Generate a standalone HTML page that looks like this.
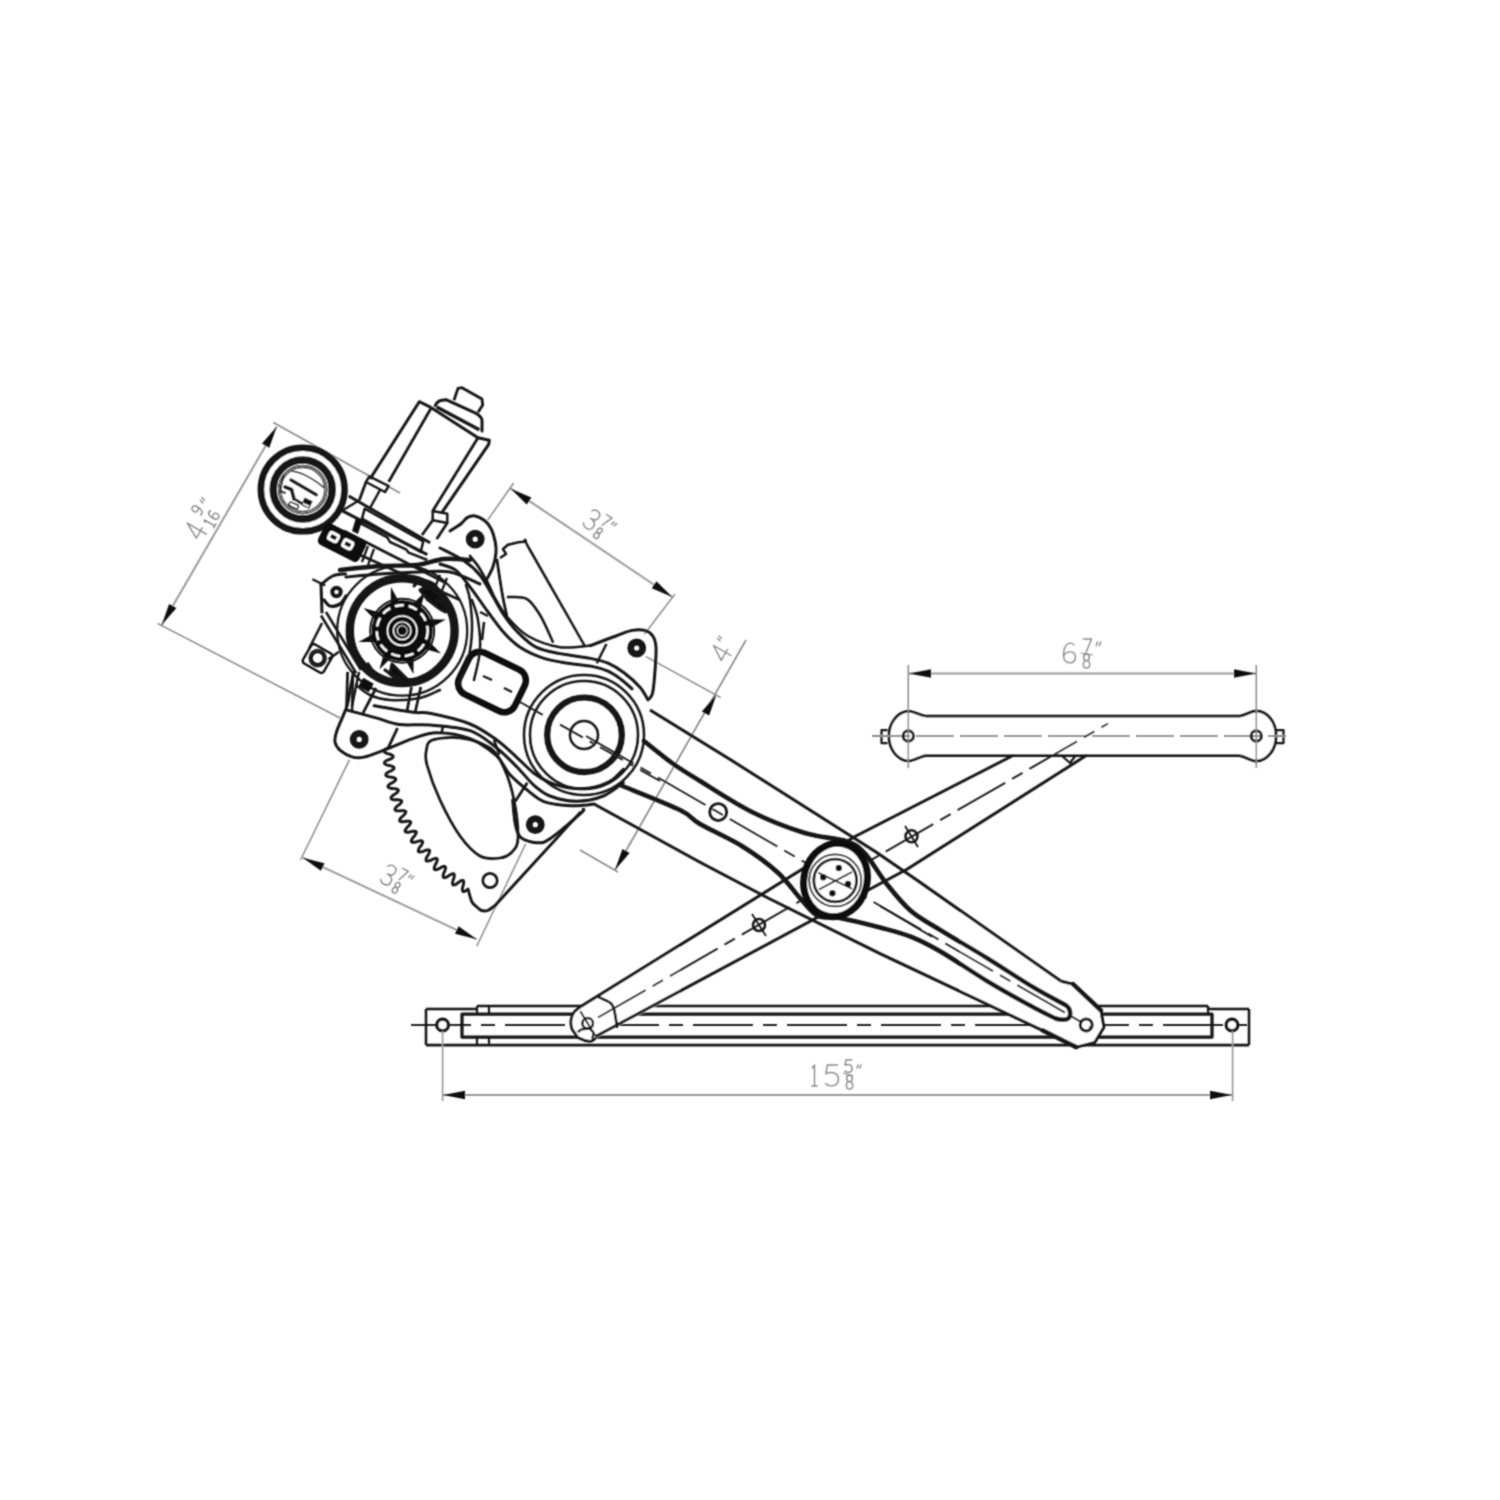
<!DOCTYPE html>
<html><head><meta charset="utf-8"><title>Window Regulator</title>
<style>html,body{margin:0;padding:0;background:#fff;font-family:"Liberation Sans",sans-serif;}svg{display:block;}</style></head>
<body>
<svg width="1500" height="1500" viewBox="0 0 1500 1500">
<defs><filter id="soft" x="-1%" y="-1%" width="102%" height="102%"><feConvolveMatrix order="3" kernelMatrix="0.04 0.12 0.04 0.12 0.36 0.12 0.04 0.12 0.04" edgeMode="none"/></filter></defs>
<rect width="1500" height="1500" fill="#ffffff"/>
<g filter="url(#soft)">
<line x1="273.3" y1="422.5" x2="400.0" y2="493.0" stroke="#8a8a8a" stroke-width="1.5" />
<line x1="157.5" y1="623.3" x2="340.0" y2="718.0" stroke="#8a8a8a" stroke-width="1.5" />
<line x1="276.7" y1="426.7" x2="161.7" y2="625.0" stroke="#9a9a9a" stroke-width="2.0" />
<path d="M276.7,426.7 L269.3,447.8 L262.0,443.6 Z" fill="#111"/>
<path d="M161.7,625.0 L169.1,603.9 L176.4,608.1 Z" fill="#111"/>
<g transform="translate(201.7,542.1) rotate(-60.0)">
<path d="M0.7,1 L0.7,0 L0.05,0.7 L0.95,0.7" transform="translate(0.0,-22.0) scale(13.20,22.00)" fill="none" stroke="#8a8a8a" stroke-width="1.4" vector-effect="non-scaling-stroke" stroke-linecap="round" stroke-linejoin="round"/>
<path d="M0.88,0.4 C0.7,0.65 0.1,0.65 0.1,0.3 C0.1,-0.05 0.9,-0.05 0.9,0.35 C0.9,0.9 0.5,1.05 0.15,0.95" transform="translate(21.8,-26.0) scale(7.50,12.10)" fill="none" stroke="#8a8a8a" stroke-width="1.4" vector-effect="non-scaling-stroke" stroke-linecap="round" stroke-linejoin="round"/>
<path d="M0.25,0.15 L0.5,0 L0.5,1 M0.2,1 L0.8,1" transform="translate(16.8,-8.9) scale(7.50,12.10)" fill="none" stroke="#8a8a8a" stroke-width="1.4" vector-effect="non-scaling-stroke" stroke-linecap="round" stroke-linejoin="round"/>
<path d="M0.8,0.08 C0.6,-0.05 0.1,-0.05 0.1,0.6 C0.1,1.05 0.9,1.05 0.9,0.68 C0.9,0.35 0.3,0.35 0.12,0.6" transform="translate(25.6,-8.9) scale(7.50,12.10)" fill="none" stroke="#8a8a8a" stroke-width="1.4" vector-effect="non-scaling-stroke" stroke-linecap="round" stroke-linejoin="round"/>
<path d="M0.3,0 L0.15,0.45 M0.7,0 L0.55,0.45" transform="translate(33.3,-22.0) scale(7.70,7.70)" fill="none" stroke="#8a8a8a" stroke-width="1.4" vector-effect="non-scaling-stroke" stroke-linecap="round" stroke-linejoin="round"/>
</g>
<line x1="513.6" y1="483.0" x2="487.5" y2="520.4" stroke="#8a8a8a" stroke-width="1.5" />
<line x1="675.0" y1="594.1" x2="644.3" y2="634.3" stroke="#8a8a8a" stroke-width="1.5" />
<line x1="510.8" y1="488.7" x2="672.3" y2="597.0" stroke="#9a9a9a" stroke-width="2.0" />
<path d="M510.8,488.7 L531.4,497.5 L526.7,504.4 Z" fill="#111"/>
<path d="M672.3,597.0 L651.7,588.2 L656.4,581.3 Z" fill="#111"/>
<g transform="translate(581.0,525.0) rotate(33.8)">
<path d="M0.1,0.15 C0.25,-0.05 0.85,-0.05 0.85,0.25 C0.85,0.45 0.6,0.48 0.35,0.48 C0.65,0.48 0.9,0.55 0.9,0.75 C0.9,1.05 0.25,1.05 0.08,0.85" transform="translate(0.0,-21.0) scale(12.60,21.00)" fill="none" stroke="#8a8a8a" stroke-width="1.4" vector-effect="non-scaling-stroke" stroke-linecap="round" stroke-linejoin="round"/>
<path d="M0.05,0 L0.95,0 L0.35,1" transform="translate(15.1,-23.0) scale(7.16,11.55)" fill="none" stroke="#8a8a8a" stroke-width="1.4" vector-effect="non-scaling-stroke" stroke-linecap="round" stroke-linejoin="round"/>
<path d="M0.5,0.47 C0.05,0.45 0.1,0 0.5,0 C0.9,0 0.95,0.45 0.5,0.47 C0.0,0.5 0.05,1 0.5,1 C0.95,1 1.0,0.5 0.5,0.47 Z" transform="translate(15.1,-8.4) scale(7.16,11.55)" fill="none" stroke="#8a8a8a" stroke-width="1.4" vector-effect="non-scaling-stroke" stroke-linecap="round" stroke-linejoin="round"/>
<path d="M0.3,0 L0.15,0.45 M0.7,0 L0.55,0.45" transform="translate(23.8,-21.0) scale(7.35,7.35)" fill="none" stroke="#8a8a8a" stroke-width="1.4" vector-effect="non-scaling-stroke" stroke-linecap="round" stroke-linejoin="round"/>
</g>
<line x1="746.0" y1="640.0" x2="615.0" y2="870.0" stroke="#8a8a8a" stroke-width="1.625" />
<path d="M716.5,694.5 L709.1,715.6 L701.9,711.4 Z" fill="#111"/>
<path d="M615.0,870.0 L622.4,848.9 L629.6,853.1 Z" fill="#111"/>
<line x1="646.0" y1="656.7" x2="720.8" y2="697.7" stroke="#8a8a8a" stroke-width="1.5" />
<line x1="580.0" y1="850.0" x2="618.0" y2="872.0" stroke="#8a8a8a" stroke-width="1.5" />
<g transform="translate(726,664) rotate(-60)">
<path d="M0.7,1 L0.7,0 L0.05,0.7 L0.95,0.7" transform="translate(0.0,-20.0) scale(14.00,20.00)" fill="none" stroke="#8a8a8a" stroke-width="1.4" vector-effect="non-scaling-stroke" stroke-linecap="round" stroke-linejoin="round"/>
<path d="M0.3,0 L0.15,0.45 M0.7,0 L0.55,0.45" transform="translate(16.0,-20.0) scale(7.00,7.00)" fill="none" stroke="#8a8a8a" stroke-width="1.4" vector-effect="non-scaling-stroke" stroke-linecap="round" stroke-linejoin="round"/>
</g>
<line x1="349.5" y1="759.7" x2="300.5" y2="860.0" stroke="#8a8a8a" stroke-width="1.5" />
<line x1="525.7" y1="843.7" x2="476.7" y2="946.3" stroke="#8a8a8a" stroke-width="1.5" />
<line x1="302.8" y1="857.7" x2="476.7" y2="939.3" stroke="#9a9a9a" stroke-width="2.0" />
<path d="M302.8,857.7 L324.5,863.2 L320.9,870.8 Z" fill="#111"/>
<path d="M476.7,939.3 L455.0,933.8 L458.6,926.2 Z" fill="#111"/>
<g transform="translate(378.4,881.5) rotate(27.6)">
<path d="M0.1,0.15 C0.25,-0.05 0.85,-0.05 0.85,0.25 C0.85,0.45 0.6,0.48 0.35,0.48 C0.65,0.48 0.9,0.55 0.9,0.75 C0.9,1.05 0.25,1.05 0.08,0.85" transform="translate(0.0,-21.0) scale(12.60,21.00)" fill="none" stroke="#8a8a8a" stroke-width="1.4" vector-effect="non-scaling-stroke" stroke-linecap="round" stroke-linejoin="round"/>
<path d="M0.05,0 L0.95,0 L0.35,1" transform="translate(15.1,-23.0) scale(7.16,11.55)" fill="none" stroke="#8a8a8a" stroke-width="1.4" vector-effect="non-scaling-stroke" stroke-linecap="round" stroke-linejoin="round"/>
<path d="M0.5,0.47 C0.05,0.45 0.1,0 0.5,0 C0.9,0 0.95,0.45 0.5,0.47 C0.0,0.5 0.05,1 0.5,1 C0.95,1 1.0,0.5 0.5,0.47 Z" transform="translate(15.1,-8.4) scale(7.16,11.55)" fill="none" stroke="#8a8a8a" stroke-width="1.4" vector-effect="non-scaling-stroke" stroke-linecap="round" stroke-linejoin="round"/>
<path d="M0.3,0 L0.15,0.45 M0.7,0 L0.55,0.45" transform="translate(23.8,-21.0) scale(7.35,7.35)" fill="none" stroke="#8a8a8a" stroke-width="1.4" vector-effect="non-scaling-stroke" stroke-linecap="round" stroke-linejoin="round"/>
</g>
<line x1="411.0" y1="1025.0" x2="1257.0" y2="1025.0" stroke="#222" stroke-width="2.0" stroke-dasharray="60 10 14 10" />
<line x1="426.0" y1="1009.0" x2="477.0" y2="1009.0" stroke="#151515" stroke-width="2.5" />
<line x1="477.0" y1="1006.0" x2="1208.0" y2="1006.0" stroke="#151515" stroke-width="2.5" />
<line x1="1208.0" y1="1009.0" x2="1249.0" y2="1009.0" stroke="#151515" stroke-width="2.5" />
<line x1="426.0" y1="1009.0" x2="426.0" y2="1045.0" stroke="#151515" stroke-width="2.5" />
<line x1="1249.0" y1="1009.0" x2="1249.0" y2="1045.0" stroke="#151515" stroke-width="2.5" />
<line x1="426.0" y1="1045.0" x2="1249.0" y2="1045.0" stroke="#151515" stroke-width="2.75" />
<line x1="1208.0" y1="1006.0" x2="1208.0" y2="1009.0" stroke="#151515" stroke-width="2.5" />
<path d="M1212.0,1014.0 L462.0,1014.0 L462.0,1037.0 L1212.0,1037.0 Z" stroke="#151515" stroke-width="3.25" fill="none" stroke-linejoin="round" />
<path d="M477.0,1006.0 L477.0,1014.0" stroke="#151515" stroke-width="2.25" fill="none" stroke-linejoin="round" />
<path d="M489.0,1006.0 L489.0,1014.0" stroke="#151515" stroke-width="2.25" fill="none" stroke-linejoin="round" />
<path d="M477.0,1037.0 L477.0,1045.0" stroke="#151515" stroke-width="2.25" fill="none" stroke-linejoin="round" />
<path d="M489.0,1037.0 L489.0,1045.0" stroke="#151515" stroke-width="2.25" fill="none" stroke-linejoin="round" />
<line x1="1208.0" y1="1009.0" x2="1208.0" y2="1014.0" stroke="#151515" stroke-width="2.25" />
<circle cx="442.6" cy="1025.0" r="5.8" stroke="#151515" stroke-width="3.4" fill="white" />
<circle cx="1232.0" cy="1025.0" r="5.8" stroke="#151515" stroke-width="3.4" fill="white" />
<line x1="442.6" y1="1031.0" x2="442.6" y2="1101.0" stroke="#9a9a9a" stroke-width="1.625" />
<line x1="1232.6" y1="1031.0" x2="1232.6" y2="1101.0" stroke="#9a9a9a" stroke-width="1.625" />
<line x1="443.0" y1="1095.0" x2="1232.0" y2="1095.0" stroke="#9a9a9a" stroke-width="2.0" />
<path d="M443.0,1095.0 L465.0,1090.8 L465.0,1099.2 Z" fill="#111"/>
<path d="M1232.0,1095.0 L1210.0,1099.2 L1210.0,1090.8 Z" fill="#111"/>
<path d="M0.25,0.15 L0.5,0 L0.5,1 M0.2,1 L0.8,1" transform="translate(810.0,1065.0) scale(9.00,21.00)" fill="none" stroke="#8a8a8a" stroke-width="1.4" vector-effect="non-scaling-stroke" stroke-linecap="round" stroke-linejoin="round"/>
<path d="M0.85,0 L0.2,0 L0.12,0.42 C0.3,0.32 0.9,0.3 0.9,0.68 C0.9,1.05 0.3,1.05 0.1,0.88" transform="translate(824.0,1065.0) scale(16.00,21.00)" fill="none" stroke="#8a8a8a" stroke-width="1.4" vector-effect="non-scaling-stroke" stroke-linecap="round" stroke-linejoin="round"/>
<path d="M0.85,0 L0.2,0 L0.12,0.42 C0.3,0.32 0.9,0.3 0.9,0.68 C0.9,1.05 0.3,1.05 0.1,0.88" transform="translate(844.0,1060.0) scale(9.00,12.50)" fill="none" stroke="#8a8a8a" stroke-width="1.4" vector-effect="non-scaling-stroke" stroke-linecap="round" stroke-linejoin="round"/>
<path d="M0.5,0.47 C0.05,0.45 0.1,0 0.5,0 C0.9,0 0.95,0.45 0.5,0.47 C0.0,0.5 0.05,1 0.5,1 C0.95,1 1.0,0.5 0.5,0.47 Z" transform="translate(845.0,1075.0) scale(9.00,14.00)" fill="none" stroke="#8a8a8a" stroke-width="1.4" vector-effect="non-scaling-stroke" stroke-linecap="round" stroke-linejoin="round"/>
<line x1="843" y1="1073" x2="853" y2="1076" stroke="#8a8a8a" stroke-width="1.1"/>
<path d="M0.3,0 L0.15,0.45 M0.7,0 L0.55,0.45" transform="translate(856.0,1065.0) scale(7.00,7.00)" fill="none" stroke="#8a8a8a" stroke-width="1.4" vector-effect="non-scaling-stroke" stroke-linecap="round" stroke-linejoin="round"/>
<line x1="872.0" y1="736.0" x2="1286.0" y2="736.0" stroke="#8a8a8a" stroke-width="1.875" stroke-dasharray="38 6" />
<path d="M926,716 L1239,716 C1245,716 1250,711 1256,710.8 A20,25 0 0 1 1256,761 C1250,761 1245,756 1239,755.6 L926,755.6 C920,756 914,761 908,761 A21,25 0 0 1 908,711.2 C914,711 920,716 926,716 Z" stroke="#151515" stroke-width="2.75" fill="white" stroke-linejoin="round" stroke-linecap="round" />
<path d="M887.5,730.0 L881.5,730.0 L881.5,743.0 L887.5,743.0" stroke="#151515" stroke-width="2.25" fill="none" stroke-linejoin="round" />
<path d="M1276.0,730.0 L1283.5,730.0 L1283.5,743.0 L1276.0,743.0" stroke="#151515" stroke-width="2.25" fill="none" stroke-linejoin="round" />
<line x1="872.0" y1="736.0" x2="1286.0" y2="736.0" stroke="#8a8a8a" stroke-width="1.875" stroke-dasharray="38 6" />
<circle cx="908.3" cy="736.0" r="5.2" stroke="#151515" stroke-width="3.0" fill="none" />
<circle cx="1256.3" cy="736.0" r="5.2" stroke="#151515" stroke-width="3.0" fill="none" />
<line x1="908.3" y1="665.0" x2="908.3" y2="768.0" stroke="#8a8a8a" stroke-width="1.5" />
<line x1="1256.3" y1="665.0" x2="1256.3" y2="768.0" stroke="#8a8a8a" stroke-width="1.5" />
<line x1="909.0" y1="673.5" x2="1256.0" y2="673.5" stroke="#9a9a9a" stroke-width="2.0" />
<path d="M909.0,673.5 L931.0,669.3 L931.0,677.7 Z" fill="#111"/>
<path d="M1256.0,673.5 L1234.0,677.7 L1234.0,669.3 Z" fill="#111"/>
<path d="M0.8,0.08 C0.6,-0.05 0.1,-0.05 0.1,0.6 C0.1,1.05 0.9,1.05 0.9,0.68 C0.9,0.35 0.3,0.35 0.12,0.6" transform="translate(1062.0,643.0) scale(15.00,21.00)" fill="none" stroke="#8a8a8a" stroke-width="1.4" vector-effect="non-scaling-stroke" stroke-linecap="round" stroke-linejoin="round"/>
<path d="M0.05,0 L0.95,0 L0.35,1" transform="translate(1083.0,639.0) scale(9.00,13.00)" fill="none" stroke="#8a8a8a" stroke-width="1.4" vector-effect="non-scaling-stroke" stroke-linecap="round" stroke-linejoin="round"/>
<line x1="1081" y1="653" x2="1093" y2="655" stroke="#8a8a8a" stroke-width="1.1"/>
<path d="M0.5,0.47 C0.05,0.45 0.1,0 0.5,0 C0.9,0 0.95,0.45 0.5,0.47 C0.0,0.5 0.05,1 0.5,1 C0.95,1 1.0,0.5 0.5,0.47 Z" transform="translate(1082.0,654.0) scale(9.00,14.00)" fill="none" stroke="#8a8a8a" stroke-width="1.4" vector-effect="non-scaling-stroke" stroke-linecap="round" stroke-linejoin="round"/>
<path d="M0.3,0 L0.15,0.45 M0.7,0 L0.55,0.45" transform="translate(1095.0,642.0) scale(8.00,8.00)" fill="none" stroke="#8a8a8a" stroke-width="1.4" vector-effect="non-scaling-stroke" stroke-linecap="round" stroke-linejoin="round"/>
<path d="M581.7,1006 L680,945.4 L680,993.3 L595,1038.7 L589.7,1041.3 L579,1038 L575,1033.3 L571.7,1028 L571,1020 L574.3,1012 Z" fill="white"/>
<path d="M960,911.5 L1061,981.2 L1073.2,984.3 L1100.8,1010.3 L1103.9,1027.2 L1094.7,1042.5 L1076.3,1047.1 L1042.5,1030.3 L960,991.5 Z" fill="white"/>
<path d="M581.7,1006.0 L854.0,837.0 L1014.0,755.0" stroke="#151515" stroke-width="3.0" fill="none" stroke-linejoin="round" />
<path d="M595.0,1036.7 L907.0,869.3 L1087.0,755.0" stroke="#151515" stroke-width="3.0" fill="none" stroke-linejoin="round" />
<path d="M581.7,1006.0 C580.5,1007.0 576.1,1009.7 574.3,1012.0 C572.5,1014.3 571.4,1017.3 571.0,1020.0 C570.6,1022.7 571.0,1025.8 571.7,1028.0 C572.4,1030.2 573.8,1031.6 575.0,1033.3 C576.2,1035.0 576.5,1036.7 579.0,1038.0 C581.5,1039.3 587.0,1041.2 589.7,1041.3 C592.4,1041.4 594.1,1039.1 595.0,1038.7" stroke="#151515" stroke-width="2.75" fill="none" stroke-linejoin="round" stroke-linecap="round" />
<path d="M599.0,997.3 C600.7,998.1 606.5,1000.2 609.0,1002.0 C611.5,1003.8 612.4,1003.9 613.7,1008.0 C615.0,1012.1 616.5,1023.6 617.0,1026.7" stroke="#151515" stroke-width="2.75" fill="none" stroke-linejoin="round" stroke-linecap="round" />
<path d="M577.7,1032.0 L581.7,1029.3 L589.7,1028.7 L593.7,1032.7 L592.3,1038.7" stroke="#151515" stroke-width="2.25" fill="none" stroke-linejoin="round" />
<line x1="580.3" y1="1011.3" x2="595.0" y2="1035.3" stroke="#151515" stroke-width="1.875" />
<line x1="598.0" y1="1017.5" x2="1108.0" y2="723.5" stroke="#222" stroke-width="2.0" stroke-dasharray="55 8 12 8" />
<circle cx="587.7" cy="1023.3" r="5.3" stroke="#151515" stroke-width="2.5" fill="none" />
<circle cx="759.0" cy="925.0" r="6.0" stroke="#151515" stroke-width="2.5" fill="none" />
<line x1="752.0" y1="914.0" x2="766.0" y2="936.0" stroke="#151515" stroke-width="1.75" />
<circle cx="911.5" cy="836.3" r="6.0" stroke="#151515" stroke-width="2.5" fill="none" />
<line x1="905.0" y1="826.0" x2="918.0" y2="847.0" stroke="#151515" stroke-width="1.75" />
<path d="M1061.0,755.0 L1070.0,763.0 L1076.0,755.0" stroke="#151515" stroke-width="2.25" fill="none" stroke-linejoin="round" />
<path d="M650.0,710.0 L731.0,760.0 L876.0,852.0 L916.8,880.0 L1061.0,981.2" stroke="#151515" stroke-width="3.0" fill="none" stroke-linejoin="round" />
<path d="M594.0,804.0 L700.0,862.3 L768.0,898.0 L880.0,953.6 L1042.5,1030.3" stroke="#151515" stroke-width="3.0" fill="none" stroke-linejoin="round" />
<path d="M1061.0,981.2 L1073.2,984.3" stroke="#151515" stroke-width="3.0" fill="none" stroke-linejoin="round" />
<path d="M1073.2,984.3 L1100.8,1010.3" stroke="#151515" stroke-width="4.6" fill="none" stroke-linejoin="round" stroke-linecap="round" />
<path d="M1100.8,1010.3 L1103.9,1027.2 L1094.7,1042.5 L1076.3,1047.1" stroke="#151515" stroke-width="3.0" fill="none" stroke-linejoin="round" />
<path d="M1076.3,1047.1 L1042.5,1030.3" stroke="#151515" stroke-width="4.6" fill="none" stroke-linejoin="round" stroke-linecap="round" />
<path d="M644.0,741.0 C648.7,744.7 662.7,756.3 672.0,763.0 C681.3,769.7 686.7,772.8 700.0,781.0 C713.3,789.2 734.7,803.4 752.0,812.0 C769.3,820.6 788.2,827.9 804.0,832.8 C819.8,837.7 836.8,838.0 847.0,841.5 C857.2,845.0 858.5,846.7 865.0,853.6 C871.5,860.5 878.4,873.5 886.0,883.0 C893.6,892.5 901.5,902.8 910.7,910.7 C919.9,918.6 928.5,922.7 941.3,930.6 C954.1,938.5 972.0,948.8 987.3,958.2 C1002.6,967.7 1020.5,979.6 1033.3,987.3 C1046.1,995.0 1058.9,1001.4 1064.0,1004.2" stroke="#151515" stroke-width="4.6" fill="none" stroke-linejoin="round" stroke-linecap="round" />
<path d="M1064,1004.2 C1072,1008 1072,1019 1065.5,1019.5 C1062,1020 1059,1019.5 1056.3,1018.8" stroke="#151515" stroke-width="4.6" fill="none" stroke-linejoin="round" stroke-linecap="round" />
<path d="M620.0,785.0 C630.0,789.2 666.7,803.5 680.0,810.0 C693.3,816.5 689.5,817.9 700.0,824.0 C710.5,830.1 730.0,838.6 743.0,846.7 C756.0,854.8 768.4,864.0 778.0,872.7 C787.6,881.4 793.8,891.5 800.5,898.7 C807.2,905.9 811.6,912.8 818.0,916.0 C824.4,919.2 828.4,915.8 838.7,917.7 C849.0,919.6 868.0,924.3 880.0,927.5 C892.0,930.7 900.5,932.6 910.7,936.7 C920.9,940.8 928.5,944.6 941.3,952.0 C954.1,959.4 972.0,972.0 987.3,981.2 C1002.6,990.4 1021.8,1001.0 1033.3,1007.3 C1044.8,1013.6 1052.5,1016.9 1056.3,1018.8" stroke="#151515" stroke-width="4.6" fill="none" stroke-linejoin="round" stroke-linecap="round" />
<line x1="586.0" y1="736.0" x2="1090.0" y2="1027.0" stroke="#222" stroke-width="2.0" stroke-dasharray="55 8 12 8" />
<circle cx="718.2" cy="812.0" r="8.5" stroke="#151515" stroke-width="2.75" fill="none" />
<circle cx="1086.2" cy="1024.9" r="6.0" stroke="#151515" stroke-width="3.0" fill="none" />
<line x1="880.0" y1="906.0" x2="932.1" y2="936.7" stroke="#151515" stroke-width="1.875" />
<path d="M388.5,748.0 L387.8,748.2 L387.2,748.4 L386.7,748.5 L386.3,748.7 L385.9,748.9 L385.6,749.1 L385.2,749.3 L384.9,749.5 L384.7,749.7 L384.5,749.9 L384.3,750.1 L384.1,750.3 L384.0,750.5 L383.9,750.7 L383.9,750.8 L383.9,751.0 L383.9,751.2 L384.0,751.4 L384.1,751.6 L384.3,751.8 L384.5,752.0 L384.7,752.2 L384.9,752.4 L385.2,752.6 L385.6,752.8 L385.9,752.9 L386.3,753.1 L386.8,753.3 L387.2,753.5 L387.8,753.7 L388.5,753.8 L389.3,754.0 L389.8,754.2 L390.3,754.4 L390.7,754.5 L391.1,754.7 L391.5,754.9 L391.8,755.1 L392.1,755.2 L392.4,755.4 L392.6,755.6 L392.8,755.8 L393.0,755.9 L393.1,756.1 L393.2,756.3 L393.2,756.5 L393.2,756.7 L393.2,756.8 L393.1,757.0 L393.0,757.2 L392.9,757.4 L392.7,757.6 L392.5,757.8 L392.3,758.0 L392.0,758.2 L391.7,758.4 L391.3,758.6 L390.9,758.8 L390.5,759.0 L390.1,759.2 L389.5,759.4 L388.9,759.7 L388.1,759.9 L387.6,760.1 L387.1,760.3 L386.7,760.6 L386.3,760.8 L385.9,761.0 L385.6,761.2 L385.3,761.4 L385.1,761.6 L384.9,761.8 L384.7,762.1 L384.6,762.3 L384.5,762.5 L384.4,762.7 L384.4,762.9 L384.4,763.0 L384.5,763.2 L384.5,763.4 L384.7,763.6 L384.8,763.8 L385.0,764.0 L385.3,764.1 L385.5,764.3 L385.8,764.5 L386.2,764.6 L386.5,764.8 L386.9,765.0 L387.4,765.1 L387.9,765.2 L388.4,765.4 L389.1,765.5 L389.9,765.6 L390.5,765.8 L391.0,765.9 L391.4,766.0 L391.9,766.2 L392.2,766.3 L392.6,766.5 L392.9,766.6 L393.2,766.8 L393.4,766.9 L393.6,767.1 L393.8,767.3 L393.9,767.4 L394.0,767.6 L394.1,767.8 L394.1,768.0 L394.1,768.2 L394.1,768.3 L394.0,768.5 L393.8,768.7 L393.7,768.9 L393.5,769.2 L393.3,769.4 L393.0,769.6 L392.7,769.8 L392.4,770.0 L392.0,770.3 L391.6,770.5 L391.2,770.8 L390.7,771.0 L390.0,771.3 L389.3,771.6 L388.8,771.8 L388.3,772.1 L387.9,772.3 L387.5,772.6 L387.2,772.8 L386.9,773.1 L386.6,773.3 L386.4,773.5 L386.2,773.7 L386.0,774.0 L385.9,774.2 L385.8,774.4 L385.8,774.6 L385.8,774.8 L385.8,775.0 L385.8,775.2 L385.9,775.3 L386.1,775.5 L386.2,775.7 L386.5,775.9 L386.7,776.0 L387.0,776.2 L387.3,776.3 L387.6,776.4 L388.0,776.6 L388.4,776.7 L388.9,776.8 L389.4,776.9 L389.9,777.0 L390.6,777.1 L391.4,777.2 L392.0,777.2 L392.5,777.3 L393.0,777.5 L393.4,777.6 L393.8,777.7 L394.2,777.8 L394.5,777.9 L394.8,778.1 L395.0,778.2 L395.3,778.4 L395.4,778.5 L395.6,778.7 L395.7,778.8 L395.8,779.0 L395.8,779.2 L395.8,779.4 L395.8,779.6 L395.7,779.8 L395.6,780.0 L395.5,780.2 L395.3,780.4 L395.1,780.6 L394.9,780.9 L394.6,781.1 L394.3,781.4 L393.9,781.6 L393.6,781.9 L393.1,782.2 L392.7,782.5 L392.1,782.8 L391.3,783.1 L390.8,783.4 L390.4,783.7 L390.0,784.0 L389.6,784.3 L389.3,784.5 L389.0,784.8 L388.8,785.0 L388.5,785.3 L388.4,785.5 L388.2,785.7 L388.1,786.0 L388.0,786.2 L388.0,786.4 L388.0,786.6 L388.0,786.8 L388.1,787.0 L388.2,787.1 L388.3,787.3 L388.5,787.5 L388.7,787.6 L389.0,787.7 L389.3,787.9 L389.6,788.0 L389.9,788.1 L390.3,788.2 L390.8,788.3 L391.2,788.4 L391.7,788.5 L392.3,788.5 L392.9,788.6 L393.8,788.6 L394.4,788.6 L394.9,788.7 L395.4,788.7 L395.8,788.8 L396.2,788.9 L396.6,789.0 L396.9,789.1 L397.2,789.2 L397.5,789.3 L397.7,789.5 L397.9,789.6 L398.1,789.8 L398.2,789.9 L398.3,790.1 L398.3,790.3 L398.4,790.4 L398.3,790.6 L398.3,790.8 L398.2,791.0 L398.1,791.3 L397.9,791.5 L397.7,791.7 L397.5,792.0 L397.3,792.3 L397.0,792.5 L396.7,792.8 L396.3,793.1 L395.9,793.4 L395.5,793.7 L394.9,794.1 L394.2,794.5 L393.7,794.8 L393.2,795.2 L392.9,795.5 L392.5,795.8 L392.2,796.0 L392.0,796.3 L391.7,796.6 L391.5,796.8 L391.4,797.1 L391.2,797.3 L391.1,797.6 L391.1,797.8 L391.0,798.0 L391.1,798.2 L391.1,798.4 L391.2,798.6 L391.3,798.7 L391.5,798.9 L391.6,799.0 L391.9,799.2 L392.1,799.3 L392.4,799.4 L392.7,799.5 L393.1,799.6 L393.5,799.7 L393.9,799.7 L394.4,799.8 L394.9,799.8 L395.4,799.8 L396.1,799.8 L396.9,799.8 L397.5,799.8 L398.1,799.8 L398.5,799.8 L399.0,799.9 L399.4,799.9 L399.8,800.0 L400.1,800.1 L400.4,800.2 L400.7,800.3 L400.9,800.4 L401.2,800.5 L401.3,800.6 L401.5,800.8 L401.6,800.9 L401.7,801.1 L401.7,801.3 L401.7,801.5 L401.7,801.7 L401.6,801.9 L401.5,802.1 L401.3,802.4 L401.2,802.6 L401.0,802.9 L400.7,803.2 L400.5,803.5 L400.2,803.8 L399.8,804.1 L399.5,804.4 L399.1,804.8 L398.5,805.2 L397.8,805.6 L397.3,806.0 L396.9,806.3 L396.6,806.7 L396.3,807.0 L396.0,807.3 L395.8,807.6 L395.5,807.9 L395.4,808.2 L395.2,808.4 L395.1,808.7 L395.0,808.9 L395.0,809.1 L394.9,809.4 L395.0,809.6 L395.0,809.7 L395.1,809.9 L395.2,810.1 L395.4,810.2 L395.6,810.4 L395.8,810.5 L396.1,810.6 L396.4,810.7 L396.7,810.7 L397.1,810.8 L397.5,810.9 L397.9,810.9 L398.4,810.9 L398.9,810.9 L399.4,810.9 L400.0,810.8 L400.9,810.7 L401.5,810.7 L402.0,810.6 L402.5,810.6 L403.0,810.7 L403.4,810.7 L403.8,810.7 L404.1,810.8 L404.4,810.8 L404.7,810.9 L405.0,811.0 L405.2,811.1 L405.4,811.2 L405.5,811.4 L405.7,811.5 L405.7,811.7 L405.8,811.9 L405.8,812.1 L405.8,812.3 L405.7,812.5 L405.7,812.7 L405.5,813.0 L405.4,813.2 L405.2,813.5 L405.0,813.8 L404.8,814.1 L404.5,814.4 L404.2,814.8 L403.8,815.1 L403.5,815.5 L403.0,815.9 L402.3,816.5 L401.8,816.9 L401.5,817.2 L401.1,817.6 L400.8,818.0 L400.6,818.3 L400.3,818.6 L400.1,818.9 L400.0,819.2 L399.8,819.5 L399.7,819.7 L399.7,820.0 L399.6,820.2 L399.6,820.4 L399.7,820.6 L399.7,820.8 L399.8,821.0 L400.0,821.1 L400.2,821.2 L400.4,821.4 L400.6,821.5 L400.9,821.5 L401.2,821.6 L401.5,821.7 L401.9,821.7 L402.3,821.7 L402.7,821.7 L403.1,821.7 L403.6,821.7 L404.2,821.6 L404.8,821.5 L405.6,821.3 L406.2,821.2 L406.8,821.2 L407.3,821.2 L407.7,821.1 L408.1,821.1 L408.5,821.1 L408.9,821.2 L409.2,821.2 L409.5,821.3 L409.8,821.3 L410.0,821.4 L410.2,821.5 L410.3,821.7 L410.5,821.8 L410.6,821.9 L410.6,822.1 L410.7,822.3 L410.7,822.5 L410.6,822.7 L410.6,823.0 L410.5,823.2 L410.4,823.5 L410.2,823.8 L410.0,824.1 L409.8,824.4 L409.6,824.8 L409.3,825.1 L409.0,825.5 L408.6,825.9 L408.2,826.4 L407.5,826.9 L407.1,827.4 L406.7,827.8 L406.4,828.2 L406.2,828.5 L405.9,828.9 L405.7,829.2 L405.5,829.5 L405.4,829.8 L405.3,830.1 L405.2,830.4 L405.1,830.6 L405.1,830.9 L405.1,831.1 L405.2,831.3 L405.3,831.5 L405.4,831.6 L405.5,831.8 L405.7,831.9 L405.9,832.0 L406.1,832.1 L406.4,832.1 L406.7,832.2 L407.1,832.2 L407.4,832.2 L407.8,832.2 L408.2,832.2 L408.7,832.2 L409.2,832.1 L409.7,832.0 L410.3,831.9 L411.1,831.6 L411.7,831.5 L412.3,831.4 L412.8,831.3 L413.2,831.2 L413.6,831.2 L414.0,831.2 L414.4,831.2 L414.7,831.2 L415.0,831.2 L415.3,831.3 L415.5,831.4 L415.7,831.5 L415.9,831.6 L416.0,831.7 L416.2,831.8 L416.2,832.0 L416.3,832.2 L416.3,832.4 L416.3,832.6 L416.2,832.9 L416.2,833.1 L416.1,833.4 L415.9,833.7 L415.8,834.0 L415.6,834.4 L415.4,834.7 L415.1,835.1 L414.8,835.5 L414.5,835.9 L414.1,836.4 L413.5,837.0 L413.1,837.5 L412.8,837.9 L412.5,838.3 L412.2,838.7 L412.0,839.1 L411.9,839.4 L411.7,839.8 L411.6,840.1 L411.5,840.4 L411.4,840.6 L411.4,840.9 L411.4,841.1 L411.4,841.3 L411.4,841.5 L411.5,841.7 L411.7,841.9 L411.8,842.0 L412.0,842.1 L412.2,842.2 L412.5,842.3 L412.7,842.3 L413.0,842.3 L413.4,842.3 L413.7,842.3 L414.1,842.3 L414.5,842.2 L415.0,842.2 L415.5,842.1 L416.0,841.9 L416.6,841.8 L417.4,841.5 L418.0,841.3 L418.5,841.1 L419.0,841.0 L419.4,840.9 L419.8,840.9 L420.2,840.8 L420.6,840.8 L420.9,840.8 L421.2,840.8 L421.5,840.8 L421.7,840.9 L422.0,840.9 L422.1,841.0 L422.3,841.2 L422.4,841.3 L422.5,841.4 L422.6,841.6 L422.6,841.8 L422.6,842.0 L422.6,842.3 L422.5,842.6 L422.5,842.8 L422.4,843.2 L422.2,843.5 L422.1,843.8 L421.9,844.2 L421.6,844.6 L421.4,845.0 L421.1,845.5 L420.8,846.0 L420.2,846.6 L419.8,847.1 L419.5,847.6 L419.3,848.0 L419.1,848.4 L418.9,848.8 L418.7,849.2 L418.6,849.5 L418.5,849.8 L418.4,850.1 L418.3,850.4 L418.3,850.7 L418.3,850.9 L418.4,851.1 L418.4,851.3 L418.5,851.5 L418.7,851.6 L418.8,851.7 L419.0,851.8 L419.2,851.9 L419.5,852.0 L419.8,852.0 L420.1,852.0 L420.4,852.0 L420.7,851.9 L421.1,851.9 L421.5,851.8 L422.0,851.7 L422.4,851.6 L423.0,851.4 L423.5,851.2 L424.3,850.8 L424.9,850.6 L425.4,850.4 L425.9,850.3 L426.3,850.1 L426.7,850.0 L427.1,850.0 L427.5,849.9 L427.8,849.9 L428.1,849.9 L428.4,849.9 L428.6,849.9 L428.9,850.0 L429.1,850.0 L429.2,850.1 L429.4,850.3 L429.5,850.4 L429.6,850.6 L429.6,850.8 L429.6,851.0 L429.6,851.2 L429.6,851.5 L429.5,851.8 L429.4,852.1 L429.3,852.5 L429.2,852.8 L429.0,853.2 L428.9,853.6 L428.6,854.0 L428.4,854.5 L428.1,855.0 L427.6,855.7 L427.2,856.2 L427.0,856.7 L426.7,857.2 L426.5,857.6 L426.4,858.0 L426.2,858.4 L426.1,858.7 L426.0,859.0 L426.0,859.4 L426.0,859.6 L426.0,859.9 L426.0,860.1 L426.0,860.3 L426.1,860.5 L426.2,860.7 L426.4,860.8 L426.5,860.9 L426.7,861.0 L426.9,861.1 L427.2,861.1 L427.5,861.1 L427.8,861.1 L428.1,861.1 L428.4,861.0 L428.8,860.9 L429.2,860.8 L429.7,860.7 L430.1,860.5 L430.6,860.3 L431.1,860.1 L431.9,859.7 L432.5,859.4 L433.0,859.2 L433.4,859.0 L433.9,858.8 L434.3,858.7 L434.7,858.6 L435.0,858.5 L435.4,858.5 L435.7,858.4 L435.9,858.4 L436.2,858.4 L436.4,858.5 L436.6,858.5 L436.8,858.6 L436.9,858.7 L437.1,858.9 L437.2,859.0 L437.2,859.2 L437.3,859.4 L437.3,859.7 L437.3,859.9 L437.2,860.2 L437.2,860.5 L437.1,860.9 L437.0,861.2 L436.8,861.6 L436.7,862.1 L436.5,862.5 L436.3,863.0 L436.0,863.5 L435.6,864.2 L435.3,864.8 L435.0,865.3 L434.8,865.8 L434.7,866.2 L434.5,866.6 L434.4,867.0 L434.3,867.4 L434.3,867.7 L434.2,868.0 L434.2,868.3 L434.2,868.6 L434.3,868.8 L434.4,869.0 L434.4,869.2 L434.6,869.3 L434.7,869.5 L434.9,869.6 L435.1,869.6 L435.3,869.7 L435.6,869.7 L435.8,869.7 L436.1,869.7 L436.4,869.6 L436.8,869.5 L437.2,869.4 L437.5,869.3 L438.0,869.1 L438.4,868.9 L438.9,868.7 L439.4,868.4 L440.1,868.0 L440.7,867.6 L441.2,867.4 L441.6,867.1 L442.0,867.0 L442.4,866.8 L442.8,866.7 L443.2,866.5 L443.5,866.5 L443.8,866.4 L444.1,866.4 L444.3,866.4 L444.6,866.4 L444.8,866.4 L444.9,866.5 L445.1,866.6 L445.2,866.7 L445.3,866.9 L445.4,867.1 L445.5,867.3 L445.5,867.5 L445.5,867.8 L445.5,868.1 L445.5,868.4 L445.4,868.7 L445.3,869.1 L445.2,869.5 L445.1,869.9 L445.0,870.4 L444.8,870.9 L444.6,871.4 L444.2,872.1 L443.9,872.8 L443.7,873.3 L443.5,873.8 L443.4,874.2 L443.3,874.6 L443.2,875.0 L443.2,875.4 L443.1,875.7 L443.1,876.0 L443.1,876.3 L443.1,876.6 L443.2,876.8 L443.3,877.0 L443.4,877.2 L443.5,877.4 L443.7,877.5 L443.8,877.6 L444.0,877.6 L444.3,877.7 L444.5,877.7 L444.8,877.6 L445.1,877.6 L445.4,877.5 L445.7,877.4 L446.1,877.3 L446.5,877.1 L446.9,876.9 L447.3,876.7 L447.7,876.4 L448.2,876.1 L448.9,875.6 L449.4,875.2 L449.9,874.9 L450.4,874.7 L450.8,874.5 L451.2,874.3 L451.5,874.1 L451.9,874.0 L452.2,873.9 L452.5,873.8 L452.8,873.7 L453.0,873.7 L453.3,873.7 L453.5,873.7 L453.7,873.8 L453.8,873.9 L454.0,874.0 L454.1,874.1 L454.2,874.3 L454.3,874.5 L454.3,874.7 L454.3,875.0 L454.3,875.3 L454.3,875.6 L454.3,876.0 L454.3,876.3 L454.2,876.7 L454.1,877.2 L454.0,877.6 L453.8,878.1 L453.7,878.7 L453.3,879.4 L453.1,880.1 L452.9,880.6 L452.8,881.1 L452.7,881.6 L452.6,882.0 L452.6,882.4 L452.5,882.8 L452.5,883.1 L452.5,883.4 L452.5,883.7 L452.6,884.0 L452.7,884.2 L452.8,884.4 L452.9,884.6 L453.0,884.7 L453.2,884.8 L453.3,884.9 L453.6,885.0 L453.8,885.0 L454.0,885.0 L454.3,884.9 L454.6,884.8 L454.9,884.7 L455.2,884.6 L455.6,884.5 L455.9,884.3 L456.3,884.1 L456.7,883.8 L457.1,883.5 L457.6,883.2 L458.2,882.6 L458.7,882.2 L459.2,881.9 L459.6,881.6 L460.0,881.3 L460.4,881.1 L460.7,880.9 L461.1,880.7 L461.4,880.6 L461.7,880.5 L462.0,880.4 L462.2,880.4 L462.5,880.4 L462.7,880.4 L462.9,880.4 L463.0,880.5 L463.2,880.6 L463.3,880.7 L463.4,880.9 L463.5,881.1 L463.6,881.3 L463.6,881.6 L463.7,881.8 L463.7,882.2 L463.7,882.5 L463.7,882.9 L463.6,883.3 L463.6,883.7 L463.5,884.2 L463.4,884.7 L463.2,885.2 L463.0,886.0 L462.8,886.7 L462.6,887.2 L462.6,887.7 L462.5,888.2 L462.4,888.6 L462.4,889.1 L462.4,889.4 L462.4,889.8 L462.4,890.1 L462.5,890.4 L462.5,890.6 L462.6,890.9 L462.7,891.1 L462.9,891.2 L463.0,891.4 L463.2,891.5 L463.4,891.5 L463.6,891.6 L463.8,891.6 L464.0,891.5 L464.3,891.5 L464.6,891.4 L464.9,891.3 L465.2,891.1 L465.5,890.9 L465.9,890.7 L466.2,890.5 L466.6,890.2 L467.0,889.9 L467.5,889.5 L468.0,889.0" stroke="#151515" stroke-width="2.875" fill="none" stroke-linejoin="round" />
<path d="M468.0,889.0 C468.7,891.2 470.3,898.8 472.0,902.0 C473.7,905.2 476.4,906.6 478.0,908.0 C479.6,909.4 480.0,910.1 481.6,910.5 C483.2,910.9 485.4,911.3 487.6,910.5 C489.8,909.7 493.6,906.5 494.8,905.7" stroke="#151515" stroke-width="2.875" fill="none" stroke-linejoin="round" stroke-linecap="round" />
<line x1="494.8" y1="905.7" x2="580.7" y2="812.0" stroke="#151515" stroke-width="2.875" />
<path d="M432.4,740.0 C438.0,738.0 450.4,736.7 460.0,738.0 C469.6,739.3 482.7,743.0 490.0,748.0 C497.3,753.0 500.0,759.3 504.0,768.0 C508.0,776.7 511.7,788.3 514.0,800.0 C516.3,811.7 518.3,829.3 518.0,838.0 C517.7,846.7 515.0,848.7 512.0,852.0 C509.0,855.3 505.3,857.3 500.0,858.0 C494.7,858.7 486.7,859.7 480.0,856.0 C473.3,852.3 466.7,845.3 460.0,836.0 C453.3,826.7 445.5,811.8 440.0,800.0 C434.5,788.2 429.3,773.3 427.0,765.0 C424.7,756.7 425.5,754.2 426.4,750.0 C427.3,745.8 426.8,742.0 432.4,740.0 Z" stroke="#151515" stroke-width="2.75" fill="none" stroke-linejoin="round" stroke-linecap="round" />
<circle cx="490.0" cy="880.5" r="7.2" stroke="#151515" stroke-width="2.75" fill="none" />
<path d="M353.6,672.0 C353.0,675.0 351.1,684.3 350.0,690.0 C348.9,695.7 349.2,699.2 347.0,706.0 C344.8,712.8 338.8,725.0 336.8,731.0 C334.8,737.0 334.4,738.9 335.0,742.2 C335.6,745.5 337.6,748.1 340.5,750.6 C343.4,753.1 348.8,756.0 352.7,757.1 C356.6,758.2 358.4,758.4 363.9,757.1 C369.3,755.9 377.1,752.7 385.4,749.6 C393.6,746.5 404.8,741.2 413.4,738.4 C421.9,735.6 427.3,732.8 436.7,732.8 C446.1,732.8 460.0,734.8 470.0,738.7 C480.0,742.6 490.0,750.0 496.7,756.0 C503.4,762.0 504.2,768.5 510.0,774.7 C515.8,780.9 525.8,788.9 531.3,793.3 C536.8,797.7 538.0,799.3 543.3,801.3 C548.6,803.3 556.6,804.6 563.3,805.3 C570.0,806.0 578.2,805.5 583.3,805.3 C588.4,805.1 592.2,804.2 594.0,804.0" stroke="#151515" stroke-width="3.0" fill="none" stroke-linejoin="round" stroke-linecap="round" />
<line x1="359.0" y1="672.0" x2="352.0" y2="706.0" stroke="#151515" stroke-width="2.5" />
<path d="M374.2,705.8 C380.7,706.9 404.1,711.0 413.4,712.3 C422.7,713.5 420.6,711.3 430.0,713.3 C439.4,715.2 458.9,719.5 470.0,724.0 C481.1,728.5 488.9,734.5 496.7,740.0 C504.5,745.5 510.5,751.8 516.7,757.3 C522.9,762.8 528.5,769.1 534.0,773.3 C539.5,777.5 544.0,780.2 550.0,782.7 C556.0,785.2 563.3,787.1 570.0,788.0 C576.7,788.9 583.3,789.1 590.0,788.0 C596.7,786.9 604.5,784.4 610.0,781.3 C615.5,778.2 621.1,771.3 623.3,769.3" stroke="#151515" stroke-width="3.0" fill="none" stroke-linejoin="round" stroke-linecap="round" />
<path d="M348.0,710.4 C352.7,711.6 367.4,715.5 376.0,717.9 C384.6,720.2 390.4,723.3 399.4,724.5 C408.4,725.7 418.2,724.0 430.0,725.0 C441.8,726.0 458.9,726.9 470.0,730.7 C481.1,734.5 488.9,742.0 496.7,748.0 C504.5,754.0 510.5,760.5 516.7,766.7 C522.9,772.9 528.5,780.4 534.0,785.3 C539.5,790.2 542.9,793.3 550.0,796.0 C557.1,798.7 567.8,801.3 576.7,801.3 C585.6,801.3 595.5,799.1 603.3,796.0 C611.1,792.9 620.0,784.9 623.3,782.7" stroke="#151515" stroke-width="3.0" fill="none" stroke-linejoin="round" stroke-linecap="round" />
<line x1="397.5" y1="728.2" x2="388.2" y2="747.8" stroke="#151515" stroke-width="2.75" />
<line x1="443.2" y1="725.4" x2="441.4" y2="733.8" stroke="#151515" stroke-width="2.5" />
<line x1="499.3" y1="754.7" x2="494.0" y2="740.0" stroke="#151515" stroke-width="2.5" />
<path d="M512.7,800.0 C513.1,804.0 514.0,817.8 515.3,824.0 C516.6,830.2 517.1,834.2 520.7,837.3 C524.3,840.4 531.8,842.5 536.7,842.7 C541.6,842.9 542.7,843.6 550.0,838.7 C557.3,833.8 575.2,818.2 580.7,813.3 C586.2,808.4 582.9,810.0 583.3,809.3" stroke="#151515" stroke-width="3.0" fill="none" stroke-linejoin="round" stroke-linecap="round" />
<line x1="527.3" y1="782.7" x2="515.3" y2="801.3" stroke="#151515" stroke-width="2.75" />
<circle cx="535.3" cy="824.7" r="6.0" stroke="#151515" stroke-width="6.8" fill="none" />
<circle cx="359.2" cy="739.4" r="6.0" stroke="#151515" stroke-width="6.8" fill="none" />
<line x1="406.8" y1="712.3" x2="411.5" y2="687.0" stroke="#151515" stroke-width="2.75" />
<line x1="415.2" y1="712.3" x2="420.8" y2="687.0" stroke="#151515" stroke-width="2.75" />
<line x1="363.0" y1="713.2" x2="376.0" y2="688.0" stroke="#151515" stroke-width="2.75" />
<path d="M450.0,531.0 C451.8,529.8 457.9,526.2 460.8,524.0 C463.7,521.8 464.8,518.9 467.2,517.6 C469.6,516.3 472.3,515.5 475.2,516.0 C478.1,516.5 482.1,518.7 484.8,520.8 C487.5,522.9 489.5,525.3 491.2,528.8 C492.9,532.3 494.4,537.6 495.2,541.6 C496.0,545.6 496.4,548.5 496.0,552.8 C495.6,557.1 494.4,562.7 492.8,567.2 C491.2,571.7 487.5,577.9 486.4,580.0" stroke="#151515" stroke-width="3.0" fill="none" stroke-linejoin="round" stroke-linecap="round" />
<circle cx="475.2" cy="539.2" r="6.0" stroke="#151515" stroke-width="6.8" fill="none" />
<path d="M440.0,548.0 C444.0,550.1 457.3,556.3 464.0,560.8 C470.7,565.3 475.2,569.3 480.0,575.2 C484.8,581.1 488.8,589.3 492.8,596.0 C496.8,602.7 500.0,609.3 504.0,615.2 C508.0,621.1 511.5,625.9 516.8,631.2 C522.1,636.5 528.8,643.5 536.0,647.2 C543.2,650.9 550.9,651.7 560.0,653.6 C569.1,655.5 582.4,656.8 590.4,658.4 C598.4,660.0 602.4,660.8 608.0,663.2 C613.6,665.6 618.7,668.8 624.0,672.8 C629.3,676.8 636.0,682.7 640.0,687.2 C644.0,691.7 646.7,697.9 648.0,700.0" stroke="#151515" stroke-width="3.0" fill="none" stroke-linejoin="round" stroke-linecap="round" />
<path d="M440.0,564.0 C442.7,565.1 450.7,566.1 456.0,570.4 C461.3,574.7 466.7,582.7 472.0,589.6 C477.3,596.5 482.7,604.8 488.0,612.0 C493.3,619.2 498.7,626.9 504.0,632.8 C509.3,638.7 513.3,642.9 520.0,647.2 C526.7,651.5 536.0,655.7 544.0,658.4 C552.0,661.1 560.0,661.9 568.0,663.2 C576.0,664.5 585.3,665.1 592.0,666.4 C598.7,667.7 603.2,669.1 608.0,671.2 C612.8,673.3 616.8,676.3 620.8,679.2 C624.8,682.1 630.1,687.2 632.0,688.8" stroke="#151515" stroke-width="3.0" fill="none" stroke-linejoin="round" stroke-linecap="round" />
<path d="M486.4,580.0 C487.8,583.0 491.5,591.9 495.0,598.0 C498.5,604.1 501.7,610.5 507.2,616.8 C512.7,623.1 519.2,630.9 528.0,636.0 C536.8,641.1 549.6,645.6 560.0,647.2 C570.4,648.8 585.3,645.9 590.4,645.6" stroke="#151515" stroke-width="2.5" fill="none" stroke-linejoin="round" stroke-linecap="round" />
<path d="M590.4,645.6 C594.7,644.0 609.1,638.5 616.0,636.0 C622.9,633.5 627.2,631.3 632.0,630.4 C636.8,629.5 641.3,629.5 644.8,630.4 C648.3,631.3 650.9,633.2 652.8,636.0 C654.7,638.8 655.6,641.9 656.0,647.2 C656.4,652.5 655.7,660.5 655.2,668.0 C654.7,675.5 653.7,686.9 652.8,692.0 C651.9,697.1 650.1,697.3 649.6,698.4" stroke="#151515" stroke-width="3.0" fill="none" stroke-linejoin="round" stroke-linecap="round" />
<line x1="606.4" y1="644.0" x2="596.8" y2="663.2" stroke="#151515" stroke-width="2.5" />
<circle cx="636.7" cy="648.0" r="6.0" stroke="#151515" stroke-width="6.8" fill="none" />
<circle cx="584.0" cy="735.0" r="14.0" stroke="#151515" stroke-width="2.5" fill="none" />
<circle cx="584.5" cy="734.8" r="37.3" stroke="#151515" stroke-width="6.2" fill="none" />
<circle cx="584.0" cy="735.0" r="54.0" stroke="#151515" stroke-width="2.5" fill="none" />
<circle cx="584.0" cy="735.0" r="60.0" stroke="#151515" stroke-width="2.5" fill="none" />
<line x1="520.0" y1="702.0" x2="660.0" y2="781.0" stroke="#222" stroke-width="2.0" stroke-dasharray="26 8 4 8" />
<g transform="translate(492,682) rotate(26)"><rect x="-31" y="-23" width="62" height="46" rx="12" fill="none" stroke="#111" stroke-width="6.5"/></g>
<line x1="483.0" y1="676.0" x2="492.0" y2="680.0" stroke="#151515" stroke-width="2.25" />
<line x1="504.0" y1="688.0" x2="512.0" y2="692.0" stroke="#151515" stroke-width="2.25" />
<path d="M497.0,560.0 C497.5,563.3 499.0,573.7 500.0,580.0 C501.0,586.3 501.9,592.1 503.0,598.0 C504.1,603.9 506.1,612.4 506.7,615.3" stroke="#151515" stroke-width="2.75" fill="none" stroke-linejoin="round" stroke-linecap="round" />
<path d="M508.0,544.7 C510.8,544.2 521.1,541.0 524.8,541.9 C528.5,542.8 520.0,532.7 530.0,550.0 C540.0,567.3 575.4,629.6 584.5,645.5" stroke="#151515" stroke-width="2.5" fill="none" stroke-linejoin="round" stroke-linecap="round" />
<path d="M508.0,544.7 L503.0,549.0 L506.0,554.0 L500.0,558.0" stroke="#151515" stroke-width="2.5" fill="none" stroke-linejoin="round" />
<path d="M508.0,597.0 C511.1,597.3 521.4,595.8 526.7,598.8 C532.0,601.8 535.6,607.9 540.0,615.0 C544.4,622.1 550.7,637.2 552.8,641.7" stroke="#151515" stroke-width="2.5" fill="none" stroke-linejoin="round" stroke-linecap="round" />
<circle cx="402.2" cy="630.7" r="52.4" stroke="#151515" stroke-width="8.4" fill="none" />
<circle cx="402.2" cy="630.7" r="65.0" stroke="#151515" stroke-width="2.25" fill="none" />
<path d="M390.8,604.0 L390.9,587.1 L399.2,601.9 Z M413.0,603.8 L425.0,591.9 L420.5,608.2 Z M428.9,619.3 L445.8,619.4 L431.0,627.7 Z M429.1,641.5 L441.0,653.5 L424.7,649.0 Z M413.6,657.4 L413.5,674.3 L405.2,659.5 Z M391.4,657.6 L379.4,669.5 L383.9,653.2 Z M375.5,642.1 L358.6,642.0 L373.4,633.7 Z M375.3,619.9 L363.4,607.9 L379.7,612.4 Z" fill="#111"/>
<circle cx="402.2" cy="630.7" r="30.5" stroke="#151515" stroke-width="0.0" fill="#111" />
<circle cx="402.2" cy="630.7" r="32.0" stroke="#151515" stroke-width="2.0" fill="none" />
<circle cx="402.2" cy="630.7" r="25.5" stroke="white" stroke-width="2.4" fill="none" stroke-dasharray="9 5"/>
<circle cx="402.2" cy="630.7" r="14.7" stroke="white" stroke-width="1.6" fill="none" />
<circle cx="402.2" cy="630.7" r="8.8" stroke="white" stroke-width="1.4" fill="none" />
<circle cx="402.2" cy="630.7" r="5.0" stroke="white" stroke-width="1.0" fill="none" />
<path d="M420,590 C426,586 432,588 438,594 C444,600 448,606 446,612 C440,610 434,604 428,600 Z" stroke="#151515" stroke-width="3.125" fill="#111" stroke-linejoin="round" stroke-linecap="round" />
<path d="M414,586 C420,578 430,580 436,586" stroke="#151515" stroke-width="3.0" fill="none" stroke-linejoin="round" stroke-linecap="round" />
<path d="M436,600 C446,604 452,612 454,620" stroke="#151515" stroke-width="3.0" fill="none" stroke-linejoin="round" stroke-linecap="round" />
<path d="M392,664 C398,670 404,676 410,682 C404,684 396,680 390,674 Z" stroke="#151515" stroke-width="3.125" fill="#111" stroke-linejoin="round" stroke-linecap="round" />
<path d="M385,670 C392,676 400,680 414,680" stroke="#151515" stroke-width="3.25" fill="none" stroke-linejoin="round" stroke-linecap="round" />
<path d="M368,664 C372,672 378,676 386,680" stroke="#151515" stroke-width="3.25" fill="none" stroke-linejoin="round" stroke-linecap="round" />
<line x1="348.7" y1="496.0" x2="430.0" y2="542.7" stroke="#151515" stroke-width="3.0" />
<line x1="342.0" y1="510.7" x2="427.3" y2="554.7" stroke="#151515" stroke-width="3.0" />
<path d="M364.7,508.7 L423.3,541.3 L420.7,552.0 L362.0,518.7 Z" stroke="#151515" stroke-width="2.5" fill="none" stroke-linejoin="round" />
<path d="M359.3,522.7 L387.3,537.3 L390.0,542.0 L406.0,549.3 L408.7,552.7 L427.3,560.0" stroke="#151515" stroke-width="2.5" fill="none" stroke-linejoin="round" />
<line x1="344.0" y1="531.0" x2="446.0" y2="583.0" stroke="#151515" stroke-width="2.75" />
<line x1="338.0" y1="545.0" x2="460.0" y2="600.0" stroke="#151515" stroke-width="2.5" />
<line x1="356.0" y1="540.0" x2="350.0" y2="556.0" stroke="#151515" stroke-width="2.25" />
<line x1="362.0" y1="543.0" x2="356.0" y2="559.0" stroke="#151515" stroke-width="2.25" />
<line x1="368.0" y1="546.0" x2="362.0" y2="562.0" stroke="#151515" stroke-width="2.25" />
<line x1="374.0" y1="549.0" x2="368.0" y2="565.0" stroke="#151515" stroke-width="2.25" />
<line x1="440.0" y1="575.0" x2="434.0" y2="590.0" stroke="#151515" stroke-width="2.25" />
<line x1="447.0" y1="578.0" x2="441.0" y2="593.0" stroke="#151515" stroke-width="2.25" />
<path d="M356,518 L362,521 L358,534 L352,531 Z" fill="#111"/>
<path d="M340.0,570.0 C346.7,569.3 367.3,566.8 380.0,566.0 C392.7,565.2 405.3,566.2 416.0,565.0 C426.7,563.8 435.0,559.8 444.0,559.0 C453.0,558.2 465.7,559.8 470.0,560.0" stroke="#151515" stroke-width="4.4" fill="none" stroke-linejoin="round" stroke-linecap="round" />
<path d="M346.0,577.0 C351.7,576.5 367.7,574.8 380.0,574.0 C392.3,573.2 408.3,572.3 420.0,572.0 C431.7,571.7 440.0,570.0 450.0,572.0 C460.0,574.0 475.0,582.0 480.0,584.0" stroke="#151515" stroke-width="3.0" fill="none" stroke-linejoin="round" stroke-linecap="round" />
<path d="M470.0,556.0 C471.3,557.7 475.3,562.0 478.0,566.0 C480.7,570.0 483.7,575.7 486.0,580.0 C488.3,584.3 491.0,590.0 492.0,592.0" stroke="#151515" stroke-width="2.75" fill="none" stroke-linejoin="round" stroke-linecap="round" />
<path d="M321.0,584.5 C322.9,583.1 328.6,577.8 332.7,576.0 C336.8,574.2 343.4,574.2 345.5,573.9" stroke="#151515" stroke-width="3.0" fill="none" stroke-linejoin="round" stroke-linecap="round" />
<line x1="321.0" y1="584.5" x2="322.0" y2="613.3" stroke="#151515" stroke-width="3.0" />
<circle cx="336.5" cy="592.0" r="4.2" stroke="#151515" stroke-width="4.0" fill="none" />
<path d="M324.0,600.0 C325.0,601.0 327.3,605.3 330.0,606.0 C332.7,606.7 337.3,605.7 340.0,604.0 C342.7,602.3 345.0,597.3 346.0,596.0" stroke="#151515" stroke-width="3.25" fill="none" stroke-linejoin="round" stroke-linecap="round" />
<line x1="312.4" y1="579.2" x2="325.2" y2="585.6" stroke="#151515" stroke-width="2.25" />
<line x1="321.0" y1="615.5" x2="356.1" y2="673.0" stroke="#151515" stroke-width="2.5" />
<line x1="326.0" y1="612.0" x2="361.0" y2="670.0" stroke="#151515" stroke-width="2.5" />
<line x1="309.2" y1="648.5" x2="322.0" y2="623.0" stroke="#151515" stroke-width="2.5" />
<line x1="328.4" y1="659.2" x2="339.0" y2="651.7" stroke="#151515" stroke-width="2.5" />
<line x1="347.6" y1="672.0" x2="346.5" y2="709.3" stroke="#151515" stroke-width="2.75" />
<line x1="353.0" y1="674.0" x2="352.0" y2="712.0" stroke="#151515" stroke-width="2.5" />
<g transform="translate(366,685) rotate(30)"><rect x="-6" y="-5" width="12" height="10" fill="#111"/></g>
<path d="M356.0,685.0 C358.3,686.7 364.3,692.5 370.0,695.0 C375.7,697.5 381.7,699.5 390.0,700.0 C398.3,700.5 411.7,699.7 420.0,698.0 C428.3,696.3 436.7,691.3 440.0,690.0" stroke="#151515" stroke-width="2.5" fill="none" stroke-linejoin="round" stroke-linecap="round" />
<path d="M466.0,585.0 C466.7,587.5 469.0,592.5 470.0,600.0 C471.0,607.5 472.3,620.0 472.0,630.0 C471.7,640.0 470.3,651.0 468.0,660.0 C465.7,669.0 459.7,680.0 458.0,684.0" stroke="#151515" stroke-width="2.5" fill="none" stroke-linejoin="round" stroke-linecap="round" />
<path d="M472.0,600.0 C473.0,603.3 476.7,611.7 478.0,620.0 C479.3,628.3 480.7,640.0 480.0,650.0 C479.3,660.0 475.0,675.0 474.0,680.0" stroke="#151515" stroke-width="2.5" fill="none" stroke-linejoin="round" stroke-linecap="round" />
<line x1="480.0" y1="612.0" x2="488.0" y2="616.0" stroke="#151515" stroke-width="2.5" />
<line x1="484.0" y1="622.0" x2="482.0" y2="640.0" stroke="#151515" stroke-width="2.5" />
<path d="M370.0,479.0 L419.3,401.7 L431.3,407.7" stroke="#151515" stroke-width="3.0" fill="none" stroke-linejoin="round" />
<path d="M431.3,407.7 L478.0,437.7 L489.3,440.3 L488.7,444.3 L442.0,512.3" stroke="#151515" stroke-width="3.0" fill="none" stroke-linejoin="round" />
<line x1="431.3" y1="407.7" x2="388.7" y2="481.7" stroke="#151515" stroke-width="2.75" />
<line x1="478.0" y1="437.7" x2="432.7" y2="511.0" stroke="#151515" stroke-width="2.75" />
<path d="M369.3,476.3 L388.7,486.0 L385.0,492.0 L366.0,482.0 Z" stroke="#151515" stroke-width="2.5" fill="none" stroke-linejoin="round" />
<line x1="366.0" y1="482.0" x2="359.3" y2="500.3" stroke="#151515" stroke-width="2.75" />
<line x1="380.0" y1="490.0" x2="370.0" y2="508.0" stroke="#151515" stroke-width="2.5" />
<line x1="359.3" y1="500.3" x2="342.0" y2="510.7" stroke="#151515" stroke-width="2.25" />
<path d="M432.7,511.0 L447.3,513.7 L447.3,523.0 L432.7,520.3 Z" stroke="#151515" stroke-width="2.5" fill="none" stroke-linejoin="round" />
<line x1="432.7" y1="520.3" x2="422.0" y2="535.0" stroke="#151515" stroke-width="2.75" />
<line x1="447.3" y1="523.0" x2="436.7" y2="539.0" stroke="#151515" stroke-width="2.75" />
<path d="M435.3,405.7 C437,401 440,400 446,399.7 L476.7,413.7 C480,416 482,418 482,420.3 L482,431" stroke="#151515" stroke-width="3.0" fill="none" stroke-linejoin="round" stroke-linecap="round" />
<line x1="436.7" y1="407.0" x2="479.3" y2="429.7" stroke="#151515" stroke-width="3.4" />
<path d="M454.0,400.3 L458.0,388.3 L462.0,387.7 L482.0,399.0 L482.7,405.0 L478.0,412.3" stroke="#151515" stroke-width="2.75" fill="none" stroke-linejoin="round" />
<circle cx="302.7" cy="489.5" r="41.8" stroke="#151515" stroke-width="6.6" fill="white" />
<circle cx="302.7" cy="489.5" r="29.5" stroke="#151515" stroke-width="7.6" fill="none" />
<circle cx="302.7" cy="489.5" r="24.0" stroke="#444" stroke-width="1.75" fill="none" />
<circle cx="302.7" cy="489.5" r="22.0" stroke="#444" stroke-width="1.5" fill="none" />
<path d="M292.3,471.3 C300,472 312,478 323.7,487.3" stroke="#151515" stroke-width="1.625" fill="none" stroke-linejoin="round" stroke-linecap="round" />
<path d="M283.7,474.7 L280.3,490.7" stroke="#151515" stroke-width="1.625" fill="none" stroke-linejoin="round" stroke-linecap="round" />
<path d="M291,480 L316.3,494.7" stroke="#151515" stroke-width="3.4" fill="none" stroke-linejoin="round" stroke-linecap="round" />
<path d="M285,487 L291.5,489.5 L294,499" stroke="#151515" stroke-width="3.6" fill="none" stroke-linejoin="round" stroke-linecap="round" />
<path d="M280.5,491 L285,493" stroke="#151515" stroke-width="2.0" fill="none" stroke-linejoin="round" stroke-linecap="round" />
<g transform="translate(293.7,505.5) rotate(25)"><rect x="-5" y="-2" width="10" height="4" rx="1.8" fill="none" stroke="#111" stroke-width="1.5"/></g>
<g transform="translate(307.7,501.3) rotate(25)"><rect x="-4.5" y="-2.2" width="9" height="4.4" fill="#111"/><rect x="-4" y="2.5" width="8" height="3.2" rx="1" fill="none" stroke="#111" stroke-width="1.3"/></g>
<path d="M296,500 L301,503" stroke="#151515" stroke-width="2.75" fill="none" stroke-linejoin="round" stroke-linecap="round" />
<g transform="translate(342,542.5) rotate(27)"><rect x="-22" y="-11" width="44" height="22" rx="4" fill="#111" stroke="#111" stroke-width="2"/><rect x="-16" y="-6" width="12" height="10" rx="3" fill="white"/><rect x="0" y="-6" width="12" height="10" rx="3" fill="white"/><rect x="-13" y="-3" width="6" height="4" fill="#111"/><rect x="3" y="-3" width="6" height="4" fill="#111"/></g>
<g transform="translate(317.5,658.5) rotate(30)"><rect x="-12" y="-11" width="24" height="22" rx="3" fill="none" stroke="#111" stroke-width="2.4"/></g>
<circle cx="317.7" cy="658.1" r="6.4" stroke="#151515" stroke-width="3.0" fill="none" />
<circle cx="317.7" cy="658.1" r="8.5" stroke="#151515" stroke-width="1.5" fill="none" />
<g transform="rotate(-76 835.5 880)">
<ellipse cx="835.5" cy="880" rx="37" ry="31.5" fill="white" stroke="#111" stroke-width="7"/>
</g>
<circle cx="835.2" cy="880.4" r="26.0" stroke="#151515" stroke-width="1.75" fill="none" />
<circle cx="835.2" cy="880.4" r="21.4" stroke="#151515" stroke-width="2.75" fill="white" />
<circle cx="838.8" cy="868.0" r="3.2" stroke="#151515" stroke-width="0.0" fill="#111" />
<circle cx="823.2" cy="877.2" r="3.2" stroke="#151515" stroke-width="0.0" fill="#111" />
<circle cx="848.0" cy="884.0" r="3.2" stroke="#151515" stroke-width="0.0" fill="#111" />
<circle cx="832.4" cy="893.2" r="3.2" stroke="#151515" stroke-width="0.0" fill="#111" />
<line x1="818.4" y1="872.8" x2="852.0" y2="888.8" stroke="#151515" stroke-width="1.75" />
<line x1="819.0" y1="889.6" x2="852.0" y2="872.0" stroke="#151515" stroke-width="1.75" />
</g>
</svg>
</body></html>
